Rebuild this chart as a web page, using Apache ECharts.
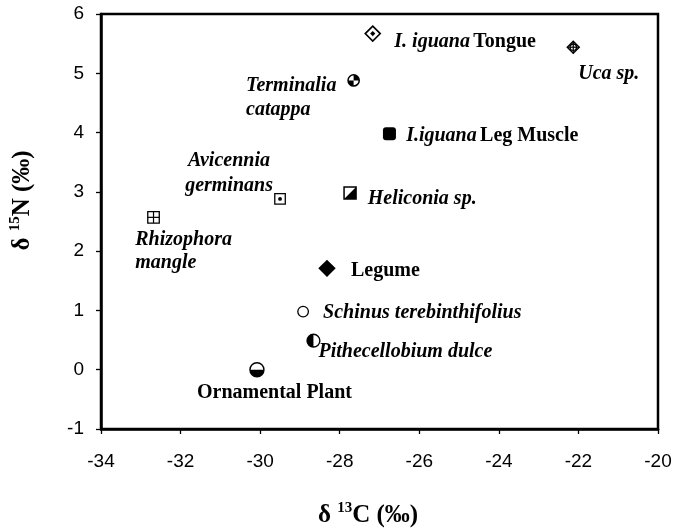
<!DOCTYPE html>
<html>
<head>
<meta charset="utf-8">
<script src="https://cdn.jsdelivr.net/npm/echarts@6/dist/echarts.min.js"></script>
<style>
  html, body { margin: 0; padding: 0; background: #fff; }
  #chart { width: 674px; height: 529px; }
</style>
</head>
<body>
<div id="chart"></div>
<script>
// Stable isotope values per sample
const samples = ['I. iguana Tongue', 'Uca sp.', 'Terminalia catappa', 'I.iguana Leg Muscle', 'Heliconia sp.',
    'Avicennia germinans', 'Rhizophora mangle', 'Legume', 'Schinus terebinthifolius', 'Pithecellobium dulce', 'Ornamental Plant'];
const d13C = [-27.17, -22.13, -27.65, -26.75, -27.74, -29.50, -32.68, -28.32, -28.92, -28.66, -30.08];
const d15N = [5.67, 5.44, 4.88, 3.98, 2.98, 2.88, 2.57, 1.71, 0.98, 0.49, 0.00];
// label text (italic species part marked with {i|..})
const labels = ['{i|I. iguana} {b|Tongue}', '{i|Uca sp.}', '{i|Terminalia}\n{i|catappa}', '{i|I.iguana} {b|Leg Muscle}',
    '{i|Heliconia sp.}', '{i|Avicennia}\n{i|germinans}', '{i|Rhizophora}\n{i|mangle}', '{b|Legume}',
    '{i|Schinus terebinthifolius}', '{i|Pithecellobium dulce}', '{b|Ornamental Plant}'];

// ============================================
// Marker glyphs
// ============================================
const ink = '#000', paper = '#fff';
const PI = Math.PI;

const diamondPts = (cx, cy, h) => [[cx, cy - h], [cx + h, cy], [cx, cy + h], [cx - h, cy]];
const poly = (pts, fill, lw) => ({ type: 'polygon', shape: { points: pts }, style: { fill: fill, stroke: lw ? ink : null, lineWidth: lw || 0 } });
const circ = (cx, cy, r, fill, lw) => ({ type: 'circle', shape: { cx: cx, cy: cy, r: r }, style: { fill: fill, stroke: lw ? ink : null, lineWidth: lw || 0 } });
const sec = (cx, cy, r, a0, a1) => ({ type: 'sector', shape: { cx: cx, cy: cy, r0: 0, r: r, startAngle: a0, endAngle: a1, clockwise: true }, style: { fill: ink } });
const box = (cx, cy, s, lw) => ({ type: 'rect', shape: { x: cx - s / 2, y: cy - s / 2, width: s, height: s }, style: { fill: paper, stroke: ink, lineWidth: lw } });
const seg = (x1, y1, x2, y2, lw) => ({ type: 'line', shape: { x1: x1, y1: y1, x2: x2, y2: y2 }, style: { stroke: ink, lineWidth: lw || 1.2 } });

const glyphs = {
    diamondDot: (x, y) => [poly(diamondPts(x, y, 7.5), paper, 1.6), poly(diamondPts(x, y, 2.6), ink)],
    diamondCross: (x, y) => [poly(diamondPts(x, y, 6), paper, 1.4), circ(x, y, 3.2, paper, 1.3), seg(x, y - 6, x, y + 6), seg(x - 6, y, x + 6, y)],
    quarters: (x, y) => [sec(x, y, 5.6, -PI / 2, 0), sec(x, y, 5.6, PI / 2, PI), circ(x, y, 5.6, null, 1.5)],
    roundSquare: (x, y) => [{ type: 'rect', shape: { x: x - 6.5, y: y - 6.5, width: 13, height: 13, r: 3 }, style: { fill: ink } }],
    halfSquare: (x, y) => [box(x, y, 12, 1.5), poly([[x + 6, y - 6], [x + 6, y + 6], [x - 6, y + 6]], ink)],
    squareDot: (x, y) => [box(x, y, 10.5, 1.3), circ(x, y, 1.9, ink)],
    squarePlus: (x, y) => [box(x, y, 11.5, 1.3), seg(x, y - 5.75, x, y + 5.75), seg(x - 5.75, y, x + 5.75, y)],
    diamond: (x, y) => [poly(diamondPts(x, y, 8.7), ink)],
    ring: (x, y) => [circ(x, y, 5.3, paper, 1.3)],
    halfLeft: (x, y) => [sec(x, y, 6.4, PI / 2, 3 * PI / 2), circ(x, y, 6.4, null, 1.4)],
    halfBottom: (x, y) => [sec(x, y, 7, 0, PI), circ(x, y, 7, null, 1.4)]
};
const glyphOf = ['diamondDot', 'diamondCross', 'quarters', 'roundSquare', 'halfSquare',
    'squareDot', 'squarePlus', 'diamond', 'ring', 'halfLeft', 'halfBottom'];

// label anchor relative to the marker: [dx, dy, align, lineHeight]
const labelPos = [
    [21.6, 8.7, 'left'], [5, 26.7, 'left'], [-107.6, 17.3, 'left', 24], [16.7, 2, 'left'], [17.7, 6, 'left'],
    [-51, -25.6, 'center', 25.3], [-18.3, 33.7, 'left', 23.4], [24, 2.4, 'left'], [20, 1.6, 'left'],
    [5, 11, 'left'], [17.5, 23.3, 'center']
];

const serif = 'Liberation Serif';
const labelRich = {
    i: { fontFamily: serif, fontSize: 20, fontWeight: 'bold', fontStyle: 'italic', color: ink },
    b: { fontFamily: serif, fontSize: 20, fontWeight: 'bold', color: ink }
};

function renderItem(params, api) {
    const i = api.value(2);
    const p = api.coord([api.value(0), api.value(1)]);
    const children = glyphs[glyphOf[i]](p[0], p[1]);
    const lp = labelPos[i];
    children.push({
        type: 'text',
        x: p[0] + lp[0],
        y: p[1] + lp[1],
        style: { text: labels[i], rich: labelRich, align: lp[2], verticalAlign: 'middle', lineHeight: lp[3] || 24, fill: ink }
    });
    return { type: 'group', children: children };
}

// ============================================
// Chart
// ============================================
const titleRich = {
    d: { fontFamily: serif, fontSize: 25, fontWeight: 'bold', color: ink, lineHeight: 29 },
    s: { fontFamily: serif, fontSize: 15, fontWeight: 'bold', color: ink, lineHeight: 18, verticalAlign: 'top' }
};
const tickLabel = { fontFamily: 'Liberation Sans', fontSize: 19, color: ink };

const chart = echarts.init(document.getElementById('chart'));
chart.setOption({
    animation: false,
    grid: {
        left: 101, right: 16, top: 14, bottom: 100, outerBoundsMode: 'none',
        show: true, borderColor: ink, borderWidth: 2.5
    },
    xAxis: {
        type: 'value', min: -34, max: -20, interval: 2,
        name: '{d|δ }{s|13}{d|C (‰)}', nameLocation: 'middle', nameGap: 72,
        nameTextStyle: { rich: titleRich, padding: [0, 23, 0, 0] },
        axisLine: { show: true, onZero: false, lineStyle: { color: ink, width: 2.5 } },
        axisTick: { show: true, length: 5, lineStyle: { color: ink, width: 1.3 } },
        axisLabel: Object.assign({ margin: 23 }, tickLabel),
        splitLine: { show: false }
    },
    yAxis: {
        type: 'value', min: -1, max: 6, interval: 1,
        name: '{d|δ }{s|15}{d|N (‰)}', nameLocation: 'middle', nameRotate: 90, nameGap: 64,
        nameTextStyle: { rich: titleRich, padding: [0, 0, 0, 42] },
        axisLine: { show: true, onZero: false, lineStyle: { color: ink, width: 2.5 } },
        axisTick: { show: true, length: 5, lineStyle: { color: ink, width: 1.3 } },
        axisLabel: Object.assign({ margin: 17 }, tickLabel),
        splitLine: { show: false }
    },
    series: [{
        type: 'custom',
        name: 'samples',
        renderItem: renderItem,
        encode: { x: 0, y: 1 },
        clip: false,
        data: d13C.map((x, i) => [x, d15N[i], i])
    }]
});
</script>
</body>
</html>
